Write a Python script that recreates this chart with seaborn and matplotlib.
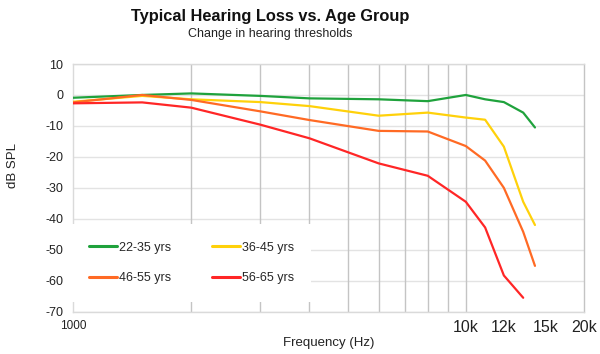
import pandas as pd
import seaborn as sns
import matplotlib.pyplot as plt
import numpy as np

freqs = [1000, 1500, 2000, 3000, 4000, 6000, 8000, 10000, 11200, 12500, 14000, 15000]
groups = ["22-35 yrs", "36-45 yrs", "46-55 yrs", "56-65 yrs"]
yrs_22_35 = [-0.9, 0.0, 0.5, -0.3, -1.1, -1.4, -2.0, 0.0, -1.4, -2.3, -5.7, -10.5]
yrs_36_45 = [-2.2, -0.3, -1.4, -2.3, -3.6, -6.7, -5.7, -7.3, -8.0, -16.7, -34.5, -42.0]
yrs_46_55 = [-2.4, 0.0, -1.6, -5.3, -8.1, -11.6, -11.8, -16.5, -21.2, -30.0, -44.2, -55.2]
yrs_56_65 = [-2.7, -2.4, -4.1, -9.6, -14.0, -22.1, -26.1, -34.5, -42.8, -58.3, -65.5]
colors = ["#1fa23c", "#ffd10a", "#ff6a24", "#ff2626"]

grid_freqs = [2000, 3000, 4000, 5000, 6000, 7000, 8000, 9000, 10000]
xtick_pos = [1000, 10000, 12500, 16000, 20000]
xtick_labels = ["1000", "10k", "12k", "15k", "20k"]

rows = []
for g, vals in zip(groups, [yrs_22_35, yrs_36_45, yrs_46_55, yrs_56_65]):
    for f, v in zip(freqs, vals):
        rows.append({"freq": f, "db": v, "group": g})
data = pd.DataFrame(rows)

sns.set_style("white")
plt.rcParams['font.family'] = ['Liberation Sans', 'DejaVu Sans']
plt.rcParams['axes.unicode_minus'] = False

fig = plt.figure(figsize=(6, 3.54), dpi=100)
ax = fig.add_axes([0.1217, 0.1195, 0.8517, 0.6997])

sns.lineplot(data=data, x="freq", y="db", hue="group", hue_order=groups,
             palette=dict(zip(groups, colors)), linewidth=1.6, ax=ax, zorder=3)

ax.set_xscale("log")
ax.set_xlim(1000, 20000)
ax.set_ylim(-70, 10)

# grid
for f in grid_freqs:
    ax.axvline(f, color="#c4c4c4", lw=1.0, zorder=1)
ax.yaxis.set_ticks(np.arange(-70, 11, 10))
ax.grid(axis="y", color="#e3e3e3", lw=1.0, zorder=0)
ax.grid(axis="x", visible=False)

ax.set_xticks(xtick_pos)
ax.set_xticks([], minor=True)
ax.set_xticklabels(xtick_labels)
for lab in ax.get_xticklabels():
    lab.set_fontsize(8.5 if lab.get_text() == "1000" else 11.5)
ax.tick_params(axis="x", length=0, pad=6, colors="#222222")
ax.tick_params(axis="y", length=0, pad=7, labelsize=9, colors="#222222")
ax.set_yticks(np.arange(-70, 10, 2), minor=True)
ax.tick_params(axis="y", which="minor", length=3, direction="in", color="#dcdcdc")

for s in ["left", "bottom", "top"]:
    ax.spines[s].set_color("#dadada")
ax.spines["right"].set_color("#c4c4c4")
for s in ax.spines.values():
    s.set_linewidth(1.0)

ax.set_xlabel("")
ax.set_ylabel("")
fig.text(0.5475, 0.031, "Frequency (Hz)", ha="center", va="center", fontsize=9.5, color="#222222")
fig.text(0.021, 0.533, "dB SPL", ha="center", va="center", rotation=90, fontsize=9.5, color="#222222")
fig.text(0.45, 0.953, "Typical Hearing Loss vs. Age Group", ha="center", va="center",
         fontsize=11.8, fontweight="bold", color="#111111")
fig.text(0.45, 0.905, "Change in hearing thresholds", ha="center", va="center",
         fontsize=9, color="#222222")

# legend filled row by row
handles, labels = ax.get_legend_handles_labels()
order = [0, 2, 1, 3]
leg = ax.legend([handles[i] for i in order], [labels[i] for i in order],
                loc="upper left", bbox_to_anchor=(-0.002, 0.354), ncol=2, fontsize=9,
                frameon=True, facecolor="white", edgecolor="none", framealpha=1,
                fancybox=False, borderaxespad=0, borderpad=1.4, handlelength=2.2,
                handletextpad=0.15, columnspacing=3.3, labelspacing=1.5)
leg.set_zorder(5)
for line in leg.get_lines():
    line.set_linewidth(2.2)

fig.savefig("out.png", dpi=100)
